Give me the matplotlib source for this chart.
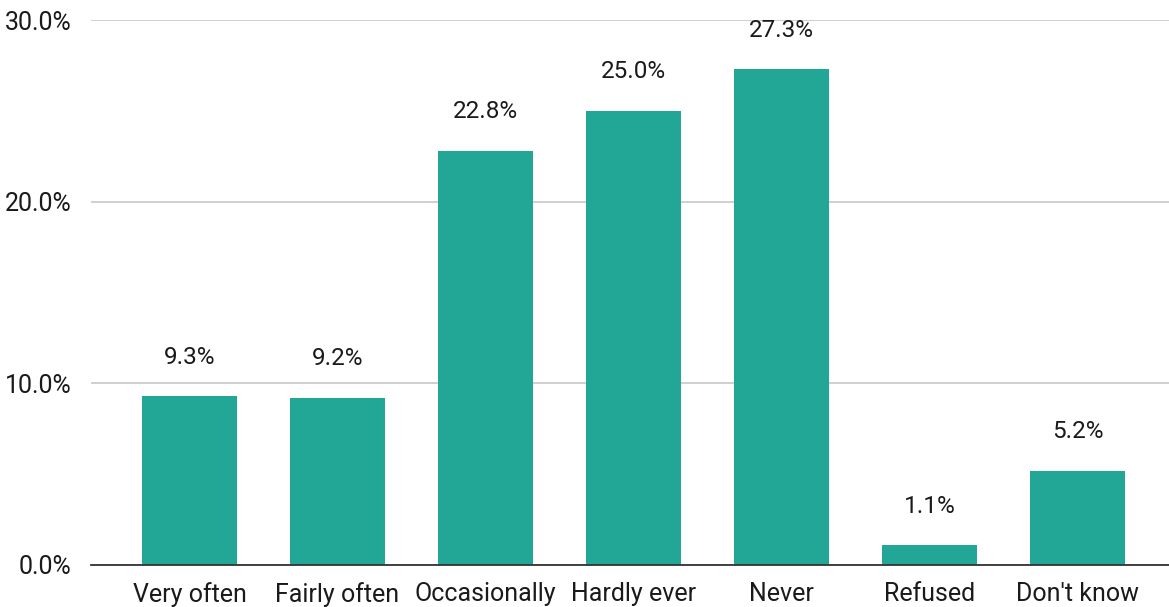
import matplotlib.pyplot as plt
from matplotlib.ticker import FuncFormatter

categories = ["Very often", "Fairly often", "Occasionally", "Hardly ever", "Never", "Refused", "Don't know"]
values = [9.3, 9.2, 22.8, 25.0, 27.3, 1.1, 5.2]
yticks = [0, 10, 20, 30]

plt.rcParams["font.family"] = ["Roboto", "DejaVu Sans"]

fig = plt.figure(figsize=(11.69, 6.07), dpi=100)
ax = fig.add_axes([91 / 1169, 1 - 565 / 607, 1 - 91 / 1169, (565 - 20) / 607])

x = range(len(categories))
ax.bar(x, values, width=0.64, color="#22a695", zorder=3)

for i, v in enumerate(values):
    ax.annotate(f"{v:.1f}%", (i, v), xytext=(0, 28), textcoords="offset points",
                ha="center", va="center", fontsize=17.5, color="#1a1a1a")

ax.set_xlim(-0.666, 6.618)
ax.set_ylim(0, 30)
ax.set_yticks(yticks)
ax.yaxis.set_major_formatter(FuncFormatter(lambda v, p: f"{v:.1f}%"))
ax.set_xticks(list(x))
ax.set_xticklabels(categories)
ax.tick_params(axis="both", length=0, labelsize=18, colors="#1a1a1a")
ax.tick_params(axis="x", pad=12)
ax.tick_params(axis="y", pad=14)
ax.grid(axis="y", color="#cccccc", linewidth=1.3, zorder=0)

for s in ["top", "right", "left"]:
    ax.spines[s].set_visible(False)
ax.spines["bottom"].set_color("#333333")
ax.spines["bottom"].set_linewidth(1.3)
ax.spines["bottom"].set_zorder(4)

fig.savefig("out.png", dpi=100)
